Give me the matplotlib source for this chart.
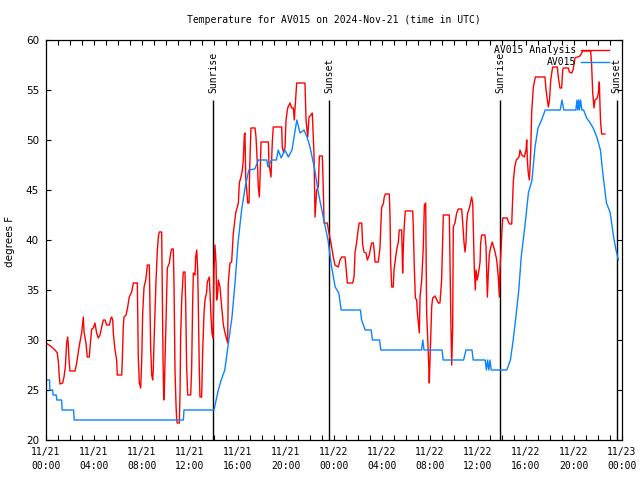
import matplotlib
matplotlib.use("Agg")
import matplotlib.pyplot as plt

# hours since 11/21 00:00 UTC
red_hours = [
    0.0, 0.48, 0.75, 0.94, 1.03, 1.11, 1.17, 1.39, 1.5, 1.61,
    1.67, 1.72, 1.81, 1.86, 1.94, 2.0, 2.42, 2.56, 2.69, 2.83,
    2.97, 3.06, 3.11, 3.17, 3.33, 3.44, 3.61, 3.67, 3.75, 3.81,
    3.94, 4.08, 4.22, 4.36, 4.5, 4.64, 4.78, 4.92, 5.06, 5.28,
    5.39, 5.47, 5.56, 5.61, 5.75, 5.89, 5.94, 6.31, 6.36, 6.44,
    6.5, 6.67, 6.78, 6.94, 7.14, 7.28, 7.61, 7.64, 7.69, 7.78,
    7.89, 7.97, 8.06, 8.17, 8.31, 8.39, 8.44, 8.61, 8.67, 8.72,
    8.81, 8.89, 8.94, 9.0, 9.08, 9.17, 9.28, 9.36, 9.44, 9.64,
    9.69, 9.75, 9.81, 9.86, 9.92, 10.0, 10.11, 10.28, 10.39, 10.47,
    10.61, 10.67, 10.75, 10.83, 10.89, 10.94, 11.11, 11.17, 11.22, 11.31,
    11.44, 11.58, 11.64, 11.72, 11.81, 12.06, 12.14, 12.22, 12.28, 12.42,
    12.47, 12.56, 12.64, 12.69, 12.78, 12.83, 12.97, 13.06, 13.17, 13.25,
    13.39, 13.44, 13.61, 13.67, 13.75, 13.83, 13.92, 14.0, 14.08, 14.17,
    14.22, 14.31, 14.36, 14.5, 14.64, 14.78, 14.92, 15.14, 15.19, 15.33,
    15.47, 15.61, 15.81, 16.03, 16.11, 16.25, 16.36, 16.44, 16.53, 16.58,
    16.64, 16.81, 16.92, 16.97, 17.08, 17.42, 17.5, 17.64, 17.69, 17.78,
    17.83, 17.92, 18.53, 18.58, 18.75, 18.86, 18.94, 19.64, 19.69, 19.81,
    19.92, 20.0, 20.14, 20.33, 20.47, 20.61, 20.69, 20.89, 21.58, 21.67,
    21.81, 21.92, 22.08, 22.19, 22.33, 22.42, 22.56, 22.69, 22.78, 23.03,
    23.11, 23.17, 23.44, 23.58, 23.75, 23.94, 24.08, 24.36, 24.5, 24.64,
    24.92, 25.0, 25.11, 25.56, 25.67, 25.75, 25.89, 26.03, 26.11, 26.31,
    26.39, 26.5, 26.67, 26.78, 26.94, 27.06, 27.14, 27.28, 27.36, 27.42,
    27.69, 27.83, 27.92, 27.97, 28.11, 28.19, 28.28, 28.61, 28.67, 28.72,
    28.81, 28.94, 29.0, 29.11, 29.22, 29.36, 29.44, 29.64, 29.72, 29.78,
    29.86, 29.94, 30.56, 30.61, 30.69, 30.78, 30.89, 30.94, 31.03, 31.11,
    31.17, 31.31, 31.44, 31.53, 31.64, 31.72, 31.81, 31.89, 31.94, 32.03,
    32.14, 32.22, 32.42, 32.69, 32.83, 32.97, 33.11, 33.61, 33.67, 33.75,
    33.81, 33.89, 33.94, 34.08, 34.22, 34.36, 34.64, 34.72, 34.83, 34.92,
    35.0, 35.06, 35.14, 35.28, 35.39, 35.47, 35.56, 35.61, 35.69, 35.78,
    35.83, 35.94, 36.08, 36.17, 36.22, 36.31, 36.58, 36.67, 36.72, 36.78,
    36.86, 36.94, 37.06, 37.19, 37.42, 37.56, 37.69, 37.78, 37.83, 37.92,
    38.0, 38.06, 38.44, 38.53, 38.64, 38.81, 38.86, 38.94, 39.06, 39.19,
    39.42, 39.5, 39.64, 39.86, 40.0, 40.06, 40.11, 40.19, 40.28, 40.39,
    40.47, 40.61, 40.78, 41.58, 41.67, 41.78, 41.86, 41.96, 42.06, 42.22,
    42.61, 42.69, 42.83, 42.97, 43.06, 43.11, 43.53, 43.61, 43.81, 43.94,
    44.08, 44.5, 44.64, 44.72, 45.39, 45.47, 45.56, 45.67, 45.75, 45.94,
    46.03, 46.11, 46.17, 46.22, 46.31, 46.58,
]
red_temps = [
    29.7, 29.3, 29.0, 28.7, 27.8, 26.3, 25.6, 25.7, 26.3, 27.3,
    28.7, 29.7, 30.3, 29.4, 27.7, 26.9, 26.9, 27.7, 28.8, 29.8,
    30.7, 31.8, 32.3, 30.8, 29.7, 28.3, 28.3, 29.3, 30.3, 31.1,
    31.2, 31.7, 30.7, 30.2, 30.5, 31.3, 32.0, 32.0, 31.5, 31.5,
    32.1, 32.3, 32.0, 30.7, 29.0, 28.0, 26.5, 26.5, 28.0, 31.3,
    32.3, 32.5, 33.1, 34.3, 34.8, 35.7, 35.7, 33.2, 28.3, 25.7,
    25.2, 27.7, 32.8, 35.3, 36.0, 36.8, 37.5, 37.5, 33.3, 29.3,
    26.5, 26.0, 27.0, 29.7, 32.7, 36.0, 39.0, 40.3, 40.8, 40.8,
    35.3, 28.3, 24.0, 25.0, 28.0, 32.0, 37.2, 37.7, 38.7, 39.1,
    39.1, 35.3, 27.0, 23.7, 22.0, 21.7, 21.7, 24.7, 30.3, 34.0,
    36.8, 36.8, 33.7, 27.3, 24.5, 24.5, 27.3, 33.7, 36.7, 36.5,
    38.3, 39.0, 37.0, 33.7, 26.7, 24.3, 24.3, 29.0, 32.7, 34.0,
    34.8, 35.8, 36.3, 34.7, 32.3, 30.7, 30.2, 37.0, 39.5, 37.7,
    34.0, 34.7, 36.0, 35.3, 33.3, 31.5, 30.7, 29.7, 35.7, 37.7,
    37.8, 40.7, 42.7, 43.7, 45.7, 46.3, 47.0, 48.0, 50.5, 50.7,
    46.3, 43.7, 43.7, 47.0, 51.2, 51.2, 50.3, 47.0, 45.3, 44.3,
    46.0, 49.8, 49.8, 47.7, 46.3, 49.8, 51.3, 51.3, 49.3, 48.7,
    49.3, 52.0, 53.2, 53.7, 53.2, 53.2, 52.0, 55.7, 55.7, 52.0,
    50.3, 52.3, 52.5, 52.7, 48.7, 42.3, 45.0, 45.3, 48.4, 48.4,
    45.0, 41.7, 41.7, 40.7, 39.7, 38.3, 37.5, 37.3, 38.0, 38.3,
    38.3, 37.3, 35.7, 35.7, 36.3, 38.7, 39.8, 41.2, 41.7, 41.7,
    39.5, 38.8, 38.7, 38.0, 38.5, 39.3, 39.7, 39.7, 38.8, 37.8,
    37.8, 39.2, 41.8, 43.3, 43.6, 44.3, 44.6, 44.6, 42.3, 37.8,
    35.3, 35.3, 37.0, 38.0, 39.0, 39.8, 41.0, 41.0, 36.7, 39.3,
    41.5, 42.9, 42.9, 41.2, 37.3, 34.2, 34.0, 32.8, 31.7, 30.7,
    34.3, 36.0, 39.3, 43.5, 43.7, 32.7, 30.0, 27.7, 25.7, 29.0,
    33.3, 34.2, 34.4, 33.7, 33.7, 36.0, 42.5, 42.5, 37.7, 31.0,
    27.5, 31.3, 41.3, 41.7, 42.7, 43.1, 43.1, 41.8, 39.8, 38.8,
    39.8, 41.8, 42.7, 43.2, 43.8, 44.3, 43.7, 41.3, 37.2, 35.0,
    37.0, 36.0, 37.0, 37.8, 39.7, 40.5, 40.5, 39.3, 37.0, 34.3,
    36.7, 38.5, 39.3, 39.8, 38.8, 38.0, 36.3, 34.3, 37.0, 39.0,
    41.0, 42.2, 42.2, 41.8, 41.6, 41.6, 43.3, 45.8, 47.3, 48.0,
    48.3, 49.0, 48.5, 48.3, 49.0, 50.0, 48.0, 46.7, 46.0, 48.7,
    52.7, 55.3, 56.3, 56.3, 55.0, 54.0, 53.3, 54.0, 56.0, 57.3,
    57.3, 56.3, 55.2, 55.2, 57.0, 57.2, 57.2, 56.8, 56.7, 57.1,
    58.2, 58.4, 58.7, 58.9, 58.9, 57.5, 54.7, 53.2, 54.0, 54.2,
    54.7, 55.8, 53.3, 51.7, 50.6, 50.6,
]

blue_hours = [
    0.0, 0.3, 0.32, 0.55, 0.6, 0.85, 0.9, 1.3, 1.35, 2.3,
    2.35, 11.45, 11.5, 14.0, 14.36, 14.6, 14.9, 15.2, 15.5, 15.75,
    16.0, 16.3, 16.6, 16.9, 17.4, 17.7, 18.4, 18.5, 18.8, 19.2,
    19.35, 19.6, 19.9, 20.2, 20.5, 20.9, 21.17, 21.5, 21.75, 22.0,
    22.4, 22.7, 23.1, 23.5, 23.8, 24.1, 24.4, 24.6, 26.2, 26.3,
    26.6, 27.1, 27.2, 27.8, 27.9, 31.3, 31.4, 31.5, 33.0, 33.1,
    34.8, 35.0, 35.5, 35.6, 36.6, 36.7, 36.8, 36.9, 37.0, 37.1,
    38.4, 38.7, 38.9, 39.1, 39.4, 39.6, 39.9, 40.2, 40.5, 40.75,
    41.0, 41.3, 41.6, 42.85, 43.0, 43.15, 44.15, 44.25, 44.3, 44.4,
    44.45, 44.55, 44.65, 44.8, 45.05, 45.3, 45.6, 45.9, 46.2, 46.4,
    46.6, 46.7, 47.0, 47.1, 47.3, 47.5, 47.7,
]
blue_temps = [
    26, 26, 25, 25, 24.5, 24.5, 24, 24, 23, 23,
    22, 22, 23, 23, 25, 26, 27, 29.7, 32.3, 35.7,
    39.7, 43, 45.3, 47, 47.1, 48, 48, 47.3, 48, 48,
    49, 48.2, 49, 48.3, 49, 52, 50.7, 51, 50.3, 49.3,
    47, 44.7, 42.3, 40, 37.3, 35.3, 34.7, 33, 33, 32,
    31, 31, 30, 30, 29, 29, 30, 29, 29, 28,
    28, 29, 29, 28, 28, 27, 28, 27, 28, 27,
    27, 28, 29.7, 31.7, 35, 38.3, 41.3, 44.7, 46, 49.3,
    51.2, 52, 53, 53, 54, 53, 53, 54, 53, 54,
    53, 54, 53, 53, 52.2, 51.8, 51.2, 50.3, 49, 46.7,
    44.7, 43.7, 42.8, 42, 40.3, 39, 38,
]

sun_hours = [13.94, 23.61, 37.86, 47.56]
sun_labels = ['Sunrise', 'Sunset', 'Sunrise', 'Sunset']

tick_hours = list(range(0, 49, 4))
tick_labels = ['11/21\n00:00', '11/21\n04:00', '11/21\n08:00', '11/21\n12:00',
               '11/21\n16:00', '11/21\n20:00', '11/22\n00:00', '11/22\n04:00',
               '11/22\n08:00', '11/22\n12:00', '11/22\n16:00', '11/22\n20:00',
               '11/23\n00:00']

mono = 'DejaVu Sans Mono'

fig = plt.figure(figsize=(6.4, 4.8), dpi=100)
ax = fig.add_axes([46 / 640, 40 / 480, 576 / 640, 400 / 480])

# sunrise / sunset markers
ax.vlines(sun_hours, 20, 54, color='black', lw=1.0, zorder=1.5)
for h, lab in zip(sun_hours, sun_labels):
    ax.text(h, 54.7, lab, rotation=90, ha='center', va='bottom',
            family=mono, fontsize=7)

ax.plot(red_hours, red_temps, color='#ff0000', lw=1.0, label='AV015 Analysis')
ax.plot(blue_hours, blue_temps, color='#0a84ff', lw=1.0, label='AV015')

ax.set_xlim(0, 48)
ax.set_ylim(20, 60)
ax.set_xticks(tick_hours)
ax.set_xticklabels(tick_labels, family=mono, fontsize=7)
for t in ax.get_xticklabels():
    t.set_linespacing(1.55)
ax.set_xticks(range(49), minor=True)
ax.set_yticks(range(20, 61, 5))
ax.tick_params(axis='y', labelsize=7.5)
ax.tick_params(which='both', direction='in', top=True, right=True,
               length=3.5, width=0.8, pad=5)
for s in ax.spines.values():
    s.set_linewidth(0.9)

ax.legend(loc='upper right', bbox_to_anchor=(563 / 576, 1 - 5 / 400),
          frameon=False, markerfirst=False, prop={'family': mono, 'size': 7},
          handlelength=2.9, handletextpad=0.5, labelspacing=0.25,
          borderaxespad=0, borderpad=0)

fig.text(334 / 640, 1 - 20 / 480, 'Temperature for AV015 on 2024-Nov-21 (time in UTC)',
         ha='center', va='center', family=mono, fontsize=7)
fig.text(10 / 640, 1 - 241 / 480, 'degrees F', rotation=90,
         ha='center', va='center', fontsize=7.5)

fig.savefig('out.png', dpi=100)
